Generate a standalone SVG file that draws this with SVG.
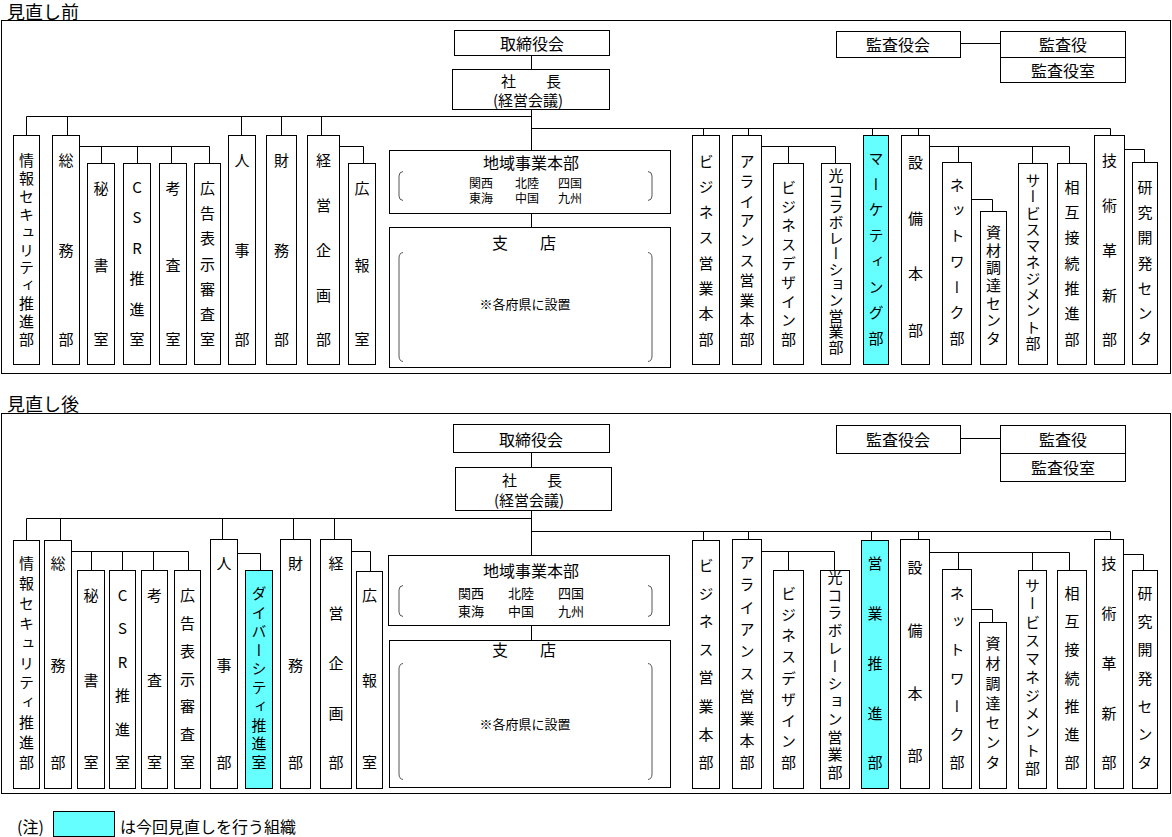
<svg xmlns="http://www.w3.org/2000/svg" width="1172" height="837" viewBox="0 0 1172 837">
<style>
.b{fill:#fff;stroke:#000;stroke-width:1}
.c{fill:#66ffff;stroke:#000;stroke-width:1}
.f{fill:none;stroke:#000;stroke-width:1}
.ln{fill:none;stroke:#000;stroke-width:1}
.br{fill:none;stroke:#555;stroke-width:1}
text{font-family:"Noto Sans CJK JP","Noto Sans CJK SC",sans-serif;fill:#000}
.h{font-size:16px;text-anchor:middle;dominant-baseline:central}
.p{font-size:15px;text-anchor:middle;dominant-baseline:central}
.s{font-size:13px;text-anchor:middle;dominant-baseline:central}
.s2{font-size:12px;text-anchor:middle;dominant-baseline:central}
.t{font-size:18px;dominant-baseline:central}
.v{font-size:15px;writing-mode:vertical-rl;text-orientation:upright;text-anchor:middle}
</style>
<rect width="1172" height="837" fill="#fff"/>

<!-- ===== 見直し前 ===== -->
<g id="before">
<text class="t" x="7" y="11">見直し前</text>
<rect class="f" x="1.5" y="20.5" width="1169" height="353"/>

<g id="connectors-before">
<path class="ln" d="M531.5,55.5V69.5M531.5,109.5V150.5M531.5,213.5V227.5"/>
<path class="ln" d="M26.5,116.5H531.5M26.5,116.5V135.5M67.5,116.5V135.5M241.5,116.5V135.5M281.5,116.5V135.5M321.5,116.5V135.5"/>
<path class="ln" d="M79.5,146.5H209.5M101.5,146.5V163.5M137.5,146.5V163.5M171.5,146.5V163.5M209.5,146.5V163.5"/>
<path class="ln" d="M339.5,146.5H363.5V163.5"/>
<path class="ln" d="M531.5,128.5H1110.5M703.5,128.5V135.5M748.5,128.5V135.5M872.5,128.5V135.5M918.5,128.5V135.5M1110.5,128.5V135.5"/>
<path class="ln" d="M761.5,146.5H835.5M788.5,146.5V163.5M835.5,146.5V163.5"/>
<path class="ln" d="M929.5,146.5H1069.5M958.5,146.5V162.5M1032.5,146.5V163.5M1069.5,146.5V163.5"/>
<path class="ln" d="M971.5,199.5H992.5V211.5"/>
<path class="ln" d="M1124.5,149.5H1144.5V162.5"/>
<path class="ln" d="M960.5,43.5H1000.5"/>
</g>

<g id="b-board"><rect class="b" x="454.5" y="30.5" width="155" height="25"/><text class="h" x="532" y="43">取締役会</text></g>
<g id="b-president"><rect class="b" x="452.5" y="69.5" width="157" height="40"/><text class="p" x="531" y="80">社　　長</text><text class="p" x="528" y="99">(経営会議)</text></g>
<g id="b-audit-board"><rect class="b" x="836.5" y="31.5" width="124" height="26"/><text class="h" x="898" y="44">監査役会</text></g>
<g id="b-auditor"><rect class="b" x="1000.5" y="31.5" width="125" height="26"/><text class="h" x="1063" y="44">監査役</text></g>
<g id="b-audit-office"><rect class="b" x="1000.5" y="57.5" width="125" height="25"/><text class="h" x="1063" y="70">監査役室</text></g>

<g id="b-regional"><rect class="b" x="389.5" y="150.5" width="281" height="63"/>
<text class="h" x="531" y="162">地域事業本部</text>
<text class="s2" x="481" y="182">関西</text><text class="s2" x="527" y="182">北陸</text><text class="s2" x="570" y="182">四国</text>
<text class="s2" x="481" y="197">東海</text><text class="s2" x="527" y="197">中国</text><text class="s2" x="570" y="197">九州</text>
<path class="br" d="M403,171.5Q399,172 399,176V196Q399,200 403,200.5M648,171.5Q652,172 652,176V196Q652,200 648,200.5"/>
</g>
<g id="b-branch"><rect class="b" x="389.5" y="227.5" width="281" height="140"/>
<text class="h" x="524" y="242">支　　店</text>
<path class="br" d="M403,252.5Q399,253 399,258V356Q399,361 403,361.5M648,252.5Q652,253 652,258V356Q652,361 648,361.5"/>
<text class="s" x="525" y="303">※各府県に設置</text>
</g>

<g id="b-infosec"><rect class="b" x="13.5" y="135.5" width="26" height="229"/><text class="v" x="26.5" y="160 178 196 214 232 250 267 285 303 321 339">情報セキュリティ推進部</text></g>
<g id="b-general"><rect class="b" x="52.5" y="135.5" width="27" height="229"/><text class="v" x="66" y="160 250 339">総務部</text></g>
<g id="b-secretary"><rect class="b" x="87.5" y="163.5" width="27" height="201"/><text class="v" x="101" y="188 265 339">秘書室</text></g>
<g id="b-csr"><rect class="b" x="123.5" y="163.5" width="27" height="201"/><text class="v" x="137" y="187 217 248 278 309 339">CSR推進室</text></g>
<g id="b-exam"><rect class="b" x="159.5" y="163.5" width="27" height="201"/><text class="v" x="173" y="188 265 339">考査室</text></g>
<g id="b-adreview"><rect class="b" x="194.5" y="163.5" width="26" height="201"/><text class="v" x="207.5" y="188 213 238 264 289 314 339">広告表示審査室</text></g>
<g id="b-hr"><rect class="b" x="228.5" y="135.5" width="27" height="229"/><text class="v" x="242" y="160 250 339">人事部</text></g>
<g id="b-finance"><rect class="b" x="266.5" y="135.5" width="30" height="229"/><text class="v" x="281.5" y="160 250 339">財務部</text></g>
<g id="b-planning"><rect class="b" x="307.5" y="135.5" width="32" height="229"/><text class="v" x="323.5" y="160 205 250 295 339">経営企画部</text></g>
<g id="b-pr"><rect class="b" x="348.5" y="163.5" width="27" height="201"/><text class="v" x="362" y="188 265 339">広報室</text></g>

<g id="b-bizsales"><rect class="b" x="692.5" y="135.5" width="27" height="229"/><text class="v" x="706" y="161 186 212 237 263 288 313 339">ビジネス営業本部</text></g>
<g id="b-alliance"><rect class="b" x="732.5" y="135.5" width="29" height="229"/><text class="v" x="747" y="161 181 201 220 240 260 280 300 319 339">アライアンス営業本部</text></g>
<g id="b-bizdesign"><rect class="b" x="773.5" y="163.5" width="30" height="201"/><text class="v" x="788.5" y="187 206 225 244 263 282 301 320 339">ビジネスデザイン部</text></g>
<g id="b-hikari"><rect class="b" x="821.5" y="163.5" width="29" height="201"/><text class="v" x="836" y="175 191 206 222 238 253 269 284 300 316 331 347">光コラボレーション営業部</text></g>
<g id="b-marketing"><rect class="c" x="863.5" y="135.5" width="25" height="229"/><text class="v" x="876" y="158 184 209 235 261 287 312 338">マーケティング部</text></g>
<g id="b-facilities"><rect class="b" x="901.5" y="135.5" width="28" height="229"/><text class="v" x="915.5" y="162 218 273 330">設備本部</text></g>
<g id="b-network"><rect class="b" x="942.5" y="162.5" width="29" height="202"/><text class="v" x="957" y="185 210 235 261 287 312 338">ネットワーク部</text></g>
<g id="b-procure"><rect class="b" x="980.5" y="211.5" width="26" height="153"/><text class="v" x="993.5" y="232 250 267 285 303 320 338">資材調達センタ</text></g>
<g id="b-service"><rect class="b" x="1018.5" y="163.5" width="29" height="201"/><text class="v" x="1033" y="180 196 213 229 245 262 278 294 310 327 343">サービスマネジメント部</text></g>
<g id="b-interconn"><rect class="b" x="1057.5" y="163.5" width="29" height="201"/><text class="v" x="1072" y="187 212 237 263 288 313 339">相互接続推進部</text></g>
<g id="b-tech"><rect class="b" x="1094.5" y="135.5" width="30" height="229"/><text class="v" x="1109.5" y="160 205 250 295 339">技術革新部</text></g>
<g id="b-rnd"><rect class="b" x="1132.5" y="162.5" width="25" height="202"/><text class="v" x="1145" y="187 212 237 263 288 313 338">研究開発センタ</text></g>
</g>

<!-- ===== 見直し後 ===== -->
<g id="after">
<text class="t" x="7" y="403">見直し後</text>
<rect class="f" x="1.5" y="413.5" width="1169" height="380"/>

<g id="connectors-after">
<path class="ln" d="M531.5,452.5V467.5M531.5,510.5V555.5M531.5,625.5V640.5"/>
<path class="ln" d="M26.5,518.5H531.5M26.5,518.5V540.5M60.5,518.5V540.5M222.5,518.5V539.5M293.5,518.5V539.5M334.5,518.5V539.5"/>
<path class="ln" d="M71.5,551.5H188.5M91.5,551.5V570.5M122.5,551.5V570.5M153.5,551.5V570.5M188.5,551.5V570.5"/>
<path class="ln" d="M237.5,553.5H260.5V570.5"/>
<path class="ln" d="M351.5,551.5H370.5V571.5"/>
<path class="ln" d="M531.5,531.5H1110.5M703.5,531.5V540.5M748.5,531.5V539.5M871.5,531.5V540.5M918.5,531.5V539.5M1110.5,531.5V539.5"/>
<path class="ln" d="M761.5,551.5H834.5M788.5,551.5V570.5M834.5,551.5V570.5"/>
<path class="ln" d="M929.5,552.5H1069.5M958.5,552.5V569.5M1032.5,552.5V570.5M1069.5,552.5V570.5"/>
<path class="ln" d="M971.5,609.5H992.5V622.5"/>
<path class="ln" d="M1123.5,554.5H1143.5V570.5"/>
<path class="ln" d="M960.5,438.5H1000.5"/>
</g>

<g id="a-board"><rect class="b" x="453.5" y="424.5" width="156" height="28"/><text class="h" x="531" y="438.5">取締役会</text></g>
<g id="a-president"><rect class="b" x="455.5" y="467.5" width="156" height="43"/><text class="p" x="532" y="479">社　　長</text><text class="p" x="529" y="499">(経営会議)</text></g>
<g id="a-audit-board"><rect class="b" x="836.5" y="425.5" width="124" height="28"/><text class="h" x="898" y="439">監査役会</text></g>
<g id="a-auditor"><rect class="b" x="1000.5" y="425.5" width="125" height="28"/><text class="h" x="1063" y="439">監査役</text></g>
<g id="a-audit-office"><rect class="b" x="1000.5" y="453.5" width="125" height="28"/><text class="h" x="1063" y="467">監査役室</text></g>

<g id="a-regional"><rect class="b" x="388.5" y="555.5" width="281" height="70"/>
<text class="h" x="531" y="570">地域事業本部</text>
<text class="s" x="471" y="592">関西</text><text class="s" x="521" y="592">北陸</text><text class="s" x="571" y="592">四国</text>
<text class="s" x="471" y="610">東海</text><text class="s" x="521" y="610">中国</text><text class="s" x="571" y="610">九州</text>
<path class="br" d="M403,585.5Q399,586 399,590V612Q399,616 403,616.5M648,585.5Q652,586 652,590V612Q652,616 648,616.5"/>
</g>
<g id="a-branch"><rect class="b" x="389.5" y="640.5" width="281" height="147"/>
<text class="h" x="524" y="649">支　　店</text>
<path class="br" d="M403,663.5Q399,664 399,669V774Q399,779 403,779.5M648,663.5Q652,664 652,669V774Q652,779 648,779.5"/>
<text class="s" x="525" y="723">※各府県に設置</text>
</g>

<g id="a-infosec"><rect class="b" x="13.5" y="540.5" width="26" height="248"/><text class="v" x="26.5" y="563 583 603 623 643 663 682 702 722 742 762">情報セキュリティ推進部</text></g>
<g id="a-general"><rect class="b" x="44.5" y="540.5" width="27" height="248"/><text class="v" x="58" y="563 665 762">総務部</text></g>
<g id="a-secretary"><rect class="b" x="77.5" y="570.5" width="27" height="218"/><text class="v" x="91" y="595 680 762">秘書室</text></g>
<g id="a-csr"><rect class="b" x="109.5" y="570.5" width="26" height="218"/><text class="v" x="122.5" y="595 628 662 695 729 762">CSR推進室</text></g>
<g id="a-exam"><rect class="b" x="141.5" y="570.5" width="26" height="218"/><text class="v" x="154.5" y="595 680 762">考査室</text></g>
<g id="a-adreview"><rect class="b" x="174.5" y="570.5" width="26" height="218"/><text class="v" x="187.5" y="595 623 651 679 706 734 762">広告表示審査室</text></g>
<g id="a-hr"><rect class="b" x="210.5" y="539.5" width="27" height="249"/><text class="v" x="224" y="563 665 762">人事部</text></g>
<g id="a-diversity"><rect class="c" x="245.5" y="570.5" width="27" height="218"/><text class="v" x="259" y="593 612 631 650 668 687 706 725 743 762">ダイバーシティ推進室</text></g>
<g id="a-finance"><rect class="b" x="280.5" y="539.5" width="30" height="249"/><text class="v" x="295.5" y="563 665 762">財務部</text></g>
<g id="a-planning"><rect class="b" x="320.5" y="539.5" width="31" height="249"/><text class="v" x="336" y="563 613 663 713 762">経営企画部</text></g>
<g id="a-pr"><rect class="b" x="356.5" y="571.5" width="26" height="217"/><text class="v" x="369.5" y="595 680 762">広報室</text></g>

<g id="a-bizsales"><rect class="b" x="692.5" y="540.5" width="27" height="248"/><text class="v" x="706" y="565 593 621 649 677 706 734 762">ビジネス営業本部</text></g>
<g id="a-alliance"><rect class="b" x="732.5" y="539.5" width="29" height="249"/><text class="v" x="747" y="562 584 607 629 651 673 696 718 740 762">アライアンス営業本部</text></g>
<g id="a-bizdesign"><rect class="b" x="773.5" y="570.5" width="30" height="218"/><text class="v" x="788.5" y="593 614 635 656 678 699 720 741 762">ビジネスデザイン部</text></g>
<g id="a-hikari"><rect class="b" x="820.5" y="570.5" width="29" height="218"/><text class="v" x="835" y="577 595 612 630 648 666 683 701 719 737 754 772">光コラボレーション営業部</text></g>
<g id="a-salespromo"><rect class="c" x="861.5" y="540.5" width="27" height="248"/><text class="v" x="875" y="563 613 663 713 762">営業推進部</text></g>
<g id="a-facilities"><rect class="b" x="900.5" y="539.5" width="29" height="249"/><text class="v" x="915" y="567 630 693 755">設備本部</text></g>
<g id="a-network"><rect class="b" x="942.5" y="569.5" width="29" height="219"/><text class="v" x="957" y="593 621 649 678 706 734 762">ネットワーク部</text></g>
<g id="a-procure"><rect class="b" x="979.5" y="622.5" width="27" height="166"/><text class="v" x="993" y="643 663 683 703 722 742 762">資材調達センタ</text></g>
<g id="a-service"><rect class="b" x="1018.5" y="570.5" width="28" height="218"/><text class="v" x="1032.5" y="585 603 622 640 658 677 695 713 731 750 768">サービスマネジメント部</text></g>
<g id="a-interconn"><rect class="b" x="1057.5" y="570.5" width="29" height="218"/><text class="v" x="1072" y="593 621 649 678 706 734 762">相互接続推進部</text></g>
<g id="a-tech"><rect class="b" x="1094.5" y="539.5" width="29" height="249"/><text class="v" x="1109" y="563 613 663 713 762">技術革新部</text></g>
<g id="a-rnd"><rect class="b" x="1132.5" y="570.5" width="25" height="218"/><text class="v" x="1145" y="593 621 649 678 706 734 762">研究開発センタ</text></g>
</g>

<g id="legend">
<text x="17" y="826" style="font-size:16px;dominant-baseline:central">(注)</text>
<rect class="c" x="53.5" y="811.5" width="61" height="25"/>
<text x="120" y="826" style="font-size:16px;dominant-baseline:central">は今回見直しを行う組織</text>
</g>
</svg>
